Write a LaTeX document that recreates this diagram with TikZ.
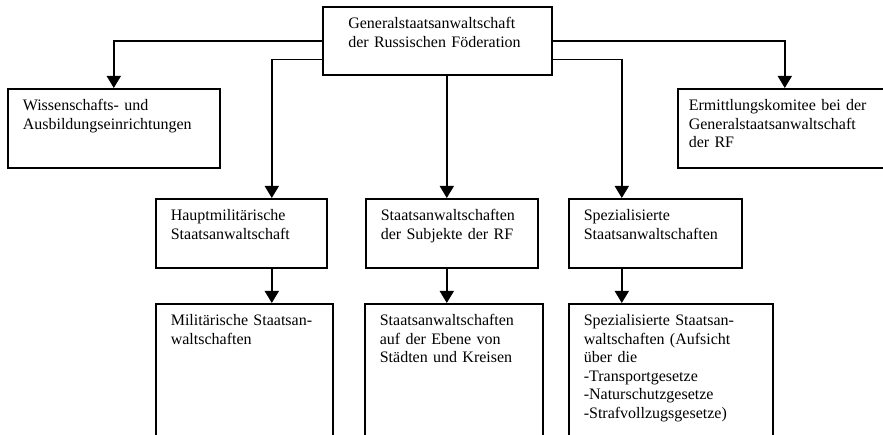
\documentclass[tikz,border=0pt]{standalone}
\usepackage{fontspec}
\setmainfont{Liberation Serif}
\usetikzlibrary{positioning, arrows.meta, calc}

\begin{document}
\begin{tikzpicture}[
    x=1pt, y=-1pt,
    >={Triangle[length=12pt, width=14pt]},
    box/.style={draw, line width=1.6pt, anchor=north west, align=left, inner xsep=15pt, inner ysep=0pt, text height=22pt, font=\fontsize{16}{18.5}\selectfont},
    arr/.style={->, line width=1.6pt}
]
\useasboundingbox (0,0) rectangle (883,435);
\clip (0,0) rectangle (883,435);
\node[box, text width=178pt, inner xsep=25.5pt, text depth=46pt] (Gen) at (322, 6) {Generalstaatsanwaltschaft\\der Russischen Föderation};
\node[box, text width=182pt, text depth=57pt] (Wiss) at (7, 88) {Wissenschafts- und\\Ausbildungseinrichtungen};
\node[box, text width=200pt, inner xsep=11pt, text depth=57pt] (Ermittlung) at (677, 88) {Ermittlungskomitee bei der\\Generalstaatsanwaltschaft\\der RF};
\node[box, text width=141pt, text depth=47pt] (HauptMil) at (155, 198) {Hauptmilitärische\\Staatsanwaltschaft};
\node[box, text width=142pt, text depth=47pt] (Subjekte) at (365, 198) {Staatsanwaltschaften\\der Subjekte der RF};
\node[box, text width=143pt, text depth=47pt] (Spez) at (568, 198) {Spezialisierte\\Staatsanwaltschaften};
\node[box, text width=147pt, text depth=145pt] (Mil) at (155, 303) {Militärische Staatsan-\\waltschaften};
\node[box, text width=148pt, text depth=145pt] (Ebene) at (364, 303) {Staatsanwaltschaften\\auf der Ebene von\\Städten und Kreisen};
\node[box, text width=174pt, text depth=145pt] (SpezAufsicht) at (568, 303) {Spezialisierte Staatsan-\\waltschaften (Aufsicht\\über die\\-Transportgesetze\\-Naturschutzgesetze\\-Strafvollzugsgesetze)};

\draw[arr] (Gen.west) -| (Wiss.north);
\draw[arr] ([yshift=16pt]Gen.south west) -| ([xshift=30.5pt]HauptMil.north);
\draw[arr] ([xshift=-5pt]Subjekte.north |- Gen.south) -- ([xshift=-5pt]Subjekte.north);
\draw[arr] ([yshift=16pt]Gen.south east) -| ([xshift=-33.5pt]Spez.north);
\draw[arr] (Gen.east) -| ([xshift=-4pt]Ermittlung.north);
\draw[arr] ([xshift=30.5pt]HauptMil.south) -- ([xshift=30.5pt]HauptMil.south |- Mil.north);
\draw[arr] ([xshift=-5pt]Subjekte.south) -- ([xshift=-5pt]Subjekte.south |- Ebene.north);
\draw[arr] ([xshift=-33.5pt]Spez.south) -- ([xshift=-33.5pt]Spez.south |- SpezAufsicht.north);
\end{tikzpicture}
\end{document}
